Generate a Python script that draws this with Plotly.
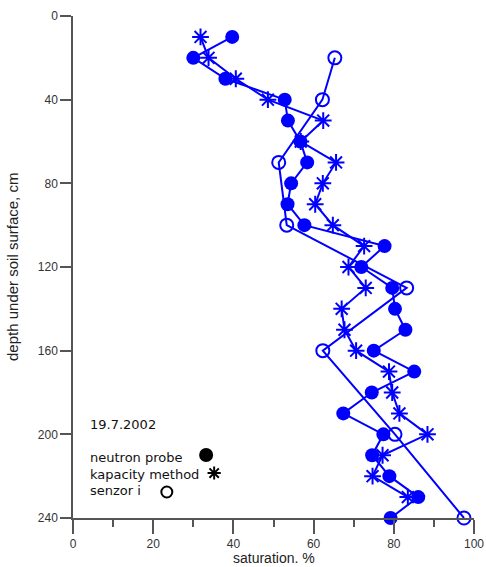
import plotly.graph_objects as go

# Soil moisture profile, 19.7.2002 — saturation (%) vs depth (cm)
depth_np = [10, 20, 30, 40, 50, 60, 70, 80, 90, 100, 110, 120, 130, 140, 150,
            160, 170, 180, 190, 200, 210, 220, 230, 240]
neutron_probe = [39.7, 30.0, 38.0, 52.8, 53.6, 56.7, 58.4, 54.4, 53.5, 57.7, 77.7, 71.9,
                 79.6, 80.3, 82.9, 75.0, 85.1, 74.5, 67.4, 77.4, 74.6, 78.9, 86.1, 79.2]

depth_kap = [10, 20, 30, 40, 50, 60, 70, 80, 90, 100, 110, 120, 130, 140, 150,
             160, 170, 180, 190, 200, 210, 220, 230]
kapacity = [31.8, 33.8, 40.6, 48.6, 62.4, 56.8, 65.6, 62.3, 60.4, 64.8, 72.6, 68.7,
            73.0, 67.0, 67.7, 70.6, 78.8, 79.6, 81.4, 88.4, 77.2, 74.7, 83.5]

depth_sen = [20, 40, 70, 100, 130, 160, 200, 240]
senzor = [65.3, 62.2, 51.3, 53.3, 83.2, 62.3, 80.3, 97.5]

x_ticks = [0, 20, 40, 60, 80, 100]
y_ticks = [0, 40, 80, 120, 160, 200, 240]

date_label = "19.7.2002"
legend_labels = ["neutron probe", "kapacity method", "senzor i"]
x_title = "saturation. %"
y_title = "depth under soil surface, cm"

BLUE = "#0000ff"
AXIS = "#555555"
SANS = "Liberation Sans, Arial, sans-serif"
TICKFONT = dict(family=SANS, size=12, color="#333333")
LEGFONT = dict(family="DejaVu Sans, Verdana, sans-serif", size=13, color="#111111")

fig = go.Figure()

fig.add_trace(go.Scatter(
    x=neutron_probe, y=depth_np, mode="lines+markers", cliponaxis=False,
    line=dict(color=BLUE, width=2),
    marker=dict(symbol="circle", size=14, color=BLUE, line=dict(width=0)),
    showlegend=False))

fig.add_trace(go.Scatter(
    x=kapacity, y=depth_kap, mode="lines+markers", cliponaxis=False,
    line=dict(color=BLUE, width=2),
    marker=dict(symbol="asterisk-open", size=14, color=BLUE,
                line=dict(color=BLUE, width=2)),
    showlegend=False))

fig.add_trace(go.Scatter(
    x=senzor, y=depth_sen, mode="lines+markers", cliponaxis=False,
    line=dict(color=BLUE, width=2),
    marker=dict(symbol="circle-open", size=13, color=BLUE,
                line=dict(color=BLUE, width=2)),
    showlegend=False))

# Key symbols for the hand-made legend, placed on a hidden 0..1 overlay
key_x = [0.332, 0.352, 0.234]
key_y = [0.1255, 0.0896, 0.0518]
key_symbols = ["circle", "asterisk-open", "circle-open"]
key_sizes = [12, 11, 11]
for kx, ky, sym, sz in zip(key_x, key_y, key_symbols, key_sizes):
    fig.add_trace(go.Scatter(
        x=[kx], y=[ky], mode="markers", xaxis="x2", yaxis="y2", cliponaxis=False,
        marker=dict(symbol=sym, size=sz, color="black",
                    line=dict(color="black", width=2)),
        showlegend=False, hoverinfo="skip"))

fig.add_annotation(x=0.037, y=0.187, xref="paper", yref="paper", text=date_label,
                   showarrow=False, xanchor="left", yanchor="middle", font=LEGFONT)
for lbl, ly in zip(legend_labels, [0.1215, 0.0876, 0.0538]):
    fig.add_annotation(x=0.037, y=ly, xref="paper", yref="paper", text=lbl,
                       showarrow=False, xanchor="left", yanchor="middle", font=LEGFONT)

# Axis titles
fig.add_annotation(x=0.5, y=0, xref="paper", yref="paper", yshift=-40,
                   text=x_title, showarrow=False, xanchor="center", yanchor="middle",
                   font=dict(family=SANS, size=14, color="#222222"))
fig.add_annotation(x=0, y=0.5, xref="paper", yref="paper", xshift=-61,
                   text=y_title, showarrow=False, textangle=-90,
                   xanchor="center", yanchor="middle",
                   font=dict(family=SANS, size=15, color="#222222"))

fig.update_layout(
    width=486, height=567,
    margin=dict(l=73, r=12, t=16, b=49, autoexpand=False),
    paper_bgcolor="white", plot_bgcolor="white",
    xaxis=dict(range=[0, 100], tickvals=x_ticks, showgrid=False, zeroline=False,
               automargin=False,
               showline=True, linecolor=AXIS, linewidth=1.5,
               ticks="outside", ticklen=14, tickwidth=1.5, tickcolor=AXIS,
               tickfont=TICKFONT,
               minor=dict(dtick=10, ticks="outside", ticklen=7, tickwidth=1.5,
                          tickcolor=AXIS, showgrid=False)),
    yaxis=dict(range=[240, 0], tickvals=y_ticks, showgrid=False, zeroline=False,
               automargin=False,
               showline=True, linecolor=AXIS, linewidth=1.5,
               ticks="outside", ticklen=11, tickwidth=1.5, tickcolor=AXIS,
               tickfont=TICKFONT),
    xaxis2=dict(range=[0, 1], overlaying="x", visible=False),
    yaxis2=dict(range=[0, 1], overlaying="y", visible=False),
)

fig.write_html("out.html")
